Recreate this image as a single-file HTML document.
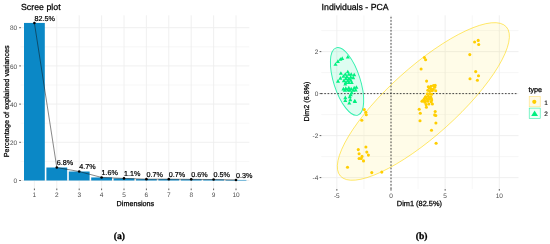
<!DOCTYPE html>
<html><head><meta charset="utf-8"><style>
html,body{margin:0;padding:0;background:#fff;width:550px;height:244px;overflow:hidden}
svg{display:block;font-family:"Liberation Sans",sans-serif;text-rendering:geometricPrecision}
svg{will-change:transform}
.tk{fill:#4d4d4d}
.lg{fill:#111;stroke:#111;stroke-width:0.15}
.at{fill:#000;stroke:#000;stroke-width:0.25}
.ti{fill:#000;stroke:#000;stroke-width:0.25}
.vl{fill:#000;stroke:#000;stroke-width:0.2}
</style></head><body>
<svg width="550" height="244" viewBox="0 0 550 244">
<line x1="20.6" x2="249.3" y1="180.50" y2="180.50" stroke="#EEEEEE" stroke-width="0.9"/>
<line x1="20.6" x2="249.3" y1="142.30" y2="142.30" stroke="#EEEEEE" stroke-width="0.9"/>
<line x1="20.6" x2="249.3" y1="104.10" y2="104.10" stroke="#EEEEEE" stroke-width="0.9"/>
<line x1="20.6" x2="249.3" y1="65.90" y2="65.90" stroke="#EEEEEE" stroke-width="0.9"/>
<line x1="20.6" x2="249.3" y1="27.70" y2="27.70" stroke="#EEEEEE" stroke-width="0.9"/>
<line x1="20.6" x2="249.3" y1="161.40" y2="161.40" stroke="#EEEEEE" stroke-width="0.5"/>
<line x1="20.6" x2="249.3" y1="123.20" y2="123.20" stroke="#EEEEEE" stroke-width="0.5"/>
<line x1="20.6" x2="249.3" y1="85.00" y2="85.00" stroke="#EEEEEE" stroke-width="0.5"/>
<line x1="20.6" x2="249.3" y1="46.80" y2="46.80" stroke="#EEEEEE" stroke-width="0.5"/>
<line x1="34.40" x2="34.40" y1="15.3" y2="188.5" stroke="#EEEEEE" stroke-width="0.9"/>
<line x1="56.80" x2="56.80" y1="15.3" y2="188.5" stroke="#EEEEEE" stroke-width="0.9"/>
<line x1="79.20" x2="79.20" y1="15.3" y2="188.5" stroke="#EEEEEE" stroke-width="0.9"/>
<line x1="101.60" x2="101.60" y1="15.3" y2="188.5" stroke="#EEEEEE" stroke-width="0.9"/>
<line x1="124.00" x2="124.00" y1="15.3" y2="188.5" stroke="#EEEEEE" stroke-width="0.9"/>
<line x1="146.40" x2="146.40" y1="15.3" y2="188.5" stroke="#EEEEEE" stroke-width="0.9"/>
<line x1="168.80" x2="168.80" y1="15.3" y2="188.5" stroke="#EEEEEE" stroke-width="0.9"/>
<line x1="191.20" x2="191.20" y1="15.3" y2="188.5" stroke="#EEEEEE" stroke-width="0.9"/>
<line x1="213.60" x2="213.60" y1="15.3" y2="188.5" stroke="#EEEEEE" stroke-width="0.9"/>
<line x1="236.00" x2="236.00" y1="15.3" y2="188.5" stroke="#EEEEEE" stroke-width="0.9"/>
<rect x="24.00" y="22.93" width="20.8" height="157.57" fill="#0B88C6"/>
<rect x="46.40" y="167.51" width="20.8" height="12.99" fill="#0B88C6"/>
<rect x="68.80" y="171.52" width="20.8" height="8.98" fill="#0B88C6"/>
<rect x="91.20" y="177.44" width="20.8" height="3.06" fill="#0B88C6"/>
<rect x="113.60" y="178.40" width="20.8" height="2.10" fill="#0B88C6"/>
<rect x="136.00" y="179.16" width="20.8" height="1.34" fill="#0B88C6"/>
<rect x="158.40" y="179.16" width="20.8" height="1.34" fill="#0B88C6"/>
<rect x="180.80" y="179.35" width="20.8" height="1.15" fill="#0B88C6"/>
<rect x="203.20" y="179.54" width="20.8" height="0.96" fill="#0B88C6"/>
<rect x="225.60" y="179.93" width="20.8" height="0.57" fill="#0B88C6"/>
<polyline points="34.40,22.93 56.80,167.51 79.20,171.52 101.60,177.44 124.00,178.40 146.40,179.16 168.80,179.16 191.20,179.35 213.60,179.54 236.00,179.93" fill="none" stroke="#111" stroke-width="0.5"/>
<circle cx="34.40" cy="22.93" r="1.3" fill="#000"/>
<circle cx="56.80" cy="167.51" r="1.3" fill="#000"/>
<circle cx="79.20" cy="171.52" r="1.3" fill="#000"/>
<circle cx="101.60" cy="177.44" r="1.3" fill="#000"/>
<circle cx="124.00" cy="178.40" r="1.3" fill="#000"/>
<circle cx="146.40" cy="179.16" r="1.3" fill="#000"/>
<circle cx="168.80" cy="179.16" r="1.3" fill="#000"/>
<circle cx="191.20" cy="179.35" r="1.3" fill="#000"/>
<circle cx="213.60" cy="179.54" r="1.3" fill="#000"/>
<circle cx="236.00" cy="179.93" r="1.3" fill="#000"/>
<text x="34.40" y="20.63" font-size="7.2" class="vl">82.5%</text>
<text x="56.80" y="165.21" font-size="7.2" class="vl">6.8%</text>
<text x="79.20" y="169.22" font-size="7.2" class="vl">4.7%</text>
<text x="101.60" y="175.14" font-size="7.2" class="vl">1.6%</text>
<text x="124.00" y="176.10" font-size="7.2" class="vl">1.1%</text>
<text x="146.40" y="176.86" font-size="7.2" class="vl">0.7%</text>
<text x="168.80" y="176.86" font-size="7.2" class="vl">0.7%</text>
<text x="191.20" y="177.05" font-size="7.2" class="vl">0.6%</text>
<text x="213.60" y="177.24" font-size="7.2" class="vl">0.5%</text>
<text x="236.00" y="177.63" font-size="7.2" class="vl">0.3%</text>
<line x1="19.2" x2="20.9" y1="180.50" y2="180.50" stroke="#333" stroke-width="0.8"/>
<text x="17.2" y="183.10" font-size="6.5" class="tk" text-anchor="end">0</text>
<line x1="19.2" x2="20.9" y1="142.30" y2="142.30" stroke="#333" stroke-width="0.8"/>
<text x="17.2" y="144.90" font-size="6.5" class="tk" text-anchor="end">20</text>
<line x1="19.2" x2="20.9" y1="104.10" y2="104.10" stroke="#333" stroke-width="0.8"/>
<text x="17.2" y="106.70" font-size="6.5" class="tk" text-anchor="end">40</text>
<line x1="19.2" x2="20.9" y1="65.90" y2="65.90" stroke="#333" stroke-width="0.8"/>
<text x="17.2" y="68.50" font-size="6.5" class="tk" text-anchor="end">60</text>
<line x1="19.2" x2="20.9" y1="27.70" y2="27.70" stroke="#333" stroke-width="0.8"/>
<text x="17.2" y="30.30" font-size="6.5" class="tk" text-anchor="end">80</text>
<line x1="34.40" x2="34.40" y1="188.5" y2="190.2" stroke="#333" stroke-width="0.8"/>
<text x="34.40" y="197.0" font-size="6.5" class="tk" text-anchor="middle">1</text>
<line x1="56.80" x2="56.80" y1="188.5" y2="190.2" stroke="#333" stroke-width="0.8"/>
<text x="56.80" y="197.0" font-size="6.5" class="tk" text-anchor="middle">2</text>
<line x1="79.20" x2="79.20" y1="188.5" y2="190.2" stroke="#333" stroke-width="0.8"/>
<text x="79.20" y="197.0" font-size="6.5" class="tk" text-anchor="middle">3</text>
<line x1="101.60" x2="101.60" y1="188.5" y2="190.2" stroke="#333" stroke-width="0.8"/>
<text x="101.60" y="197.0" font-size="6.5" class="tk" text-anchor="middle">4</text>
<line x1="124.00" x2="124.00" y1="188.5" y2="190.2" stroke="#333" stroke-width="0.8"/>
<text x="124.00" y="197.0" font-size="6.5" class="tk" text-anchor="middle">5</text>
<line x1="146.40" x2="146.40" y1="188.5" y2="190.2" stroke="#333" stroke-width="0.8"/>
<text x="146.40" y="197.0" font-size="6.5" class="tk" text-anchor="middle">6</text>
<line x1="168.80" x2="168.80" y1="188.5" y2="190.2" stroke="#333" stroke-width="0.8"/>
<text x="168.80" y="197.0" font-size="6.5" class="tk" text-anchor="middle">7</text>
<line x1="191.20" x2="191.20" y1="188.5" y2="190.2" stroke="#333" stroke-width="0.8"/>
<text x="191.20" y="197.0" font-size="6.5" class="tk" text-anchor="middle">8</text>
<line x1="213.60" x2="213.60" y1="188.5" y2="190.2" stroke="#333" stroke-width="0.8"/>
<text x="213.60" y="197.0" font-size="6.5" class="tk" text-anchor="middle">9</text>
<line x1="236.00" x2="236.00" y1="188.5" y2="190.2" stroke="#333" stroke-width="0.8"/>
<text x="236.00" y="197.0" font-size="6.5" class="tk" text-anchor="middle">10</text>
<text x="21" y="10.4" font-size="8.8" class="ti">Scree plot</text>
<text x="135.4" y="206.4" font-size="7.2" class="at" text-anchor="middle">Dimensions</text>
<text transform="translate(8.6,101.3) rotate(-90)" font-size="7.3" class="at" text-anchor="middle">Percentage of explained variances</text>
<line x1="336.85" x2="336.85" y1="15.3" y2="189.0" stroke="#EEEEEE" stroke-width="0.9"/>
<line x1="391.00" x2="391.00" y1="15.3" y2="189.0" stroke="#EEEEEE" stroke-width="0.9"/>
<line x1="445.15" x2="445.15" y1="15.3" y2="189.0" stroke="#EEEEEE" stroke-width="0.9"/>
<line x1="499.30" x2="499.30" y1="15.3" y2="189.0" stroke="#EEEEEE" stroke-width="0.9"/>
<line x1="363.93" x2="363.93" y1="15.3" y2="189.0" stroke="#EEEEEE" stroke-width="0.5"/>
<line x1="418.07" x2="418.07" y1="15.3" y2="189.0" stroke="#EEEEEE" stroke-width="0.5"/>
<line x1="472.23" x2="472.23" y1="15.3" y2="189.0" stroke="#EEEEEE" stroke-width="0.5"/>
<line x1="321.2" x2="518.5" y1="177.60" y2="177.60" stroke="#EEEEEE" stroke-width="0.9"/>
<line x1="321.2" x2="518.5" y1="135.60" y2="135.60" stroke="#EEEEEE" stroke-width="0.9"/>
<line x1="321.2" x2="518.5" y1="93.60" y2="93.60" stroke="#EEEEEE" stroke-width="0.9"/>
<line x1="321.2" x2="518.5" y1="51.60" y2="51.60" stroke="#EEEEEE" stroke-width="0.9"/>
<line x1="321.2" x2="518.5" y1="156.60" y2="156.60" stroke="#EEEEEE" stroke-width="0.5"/>
<line x1="321.2" x2="518.5" y1="114.60" y2="114.60" stroke="#EEEEEE" stroke-width="0.5"/>
<line x1="321.2" x2="518.5" y1="72.60" y2="72.60" stroke="#EEEEEE" stroke-width="0.5"/>
<line x1="321.2" x2="518.5" y1="30.60" y2="30.60" stroke="#EEEEEE" stroke-width="0.5"/>
<ellipse cx="423.36" cy="101.46" rx="111.57" ry="34.16" transform="rotate(-41.96 423.36 101.46)" fill="#FFE000" fill-opacity="0.09" stroke="#FFD800" stroke-opacity="0.68" stroke-width="0.8"/>
<ellipse cx="347.04" cy="81.48" rx="35.35" ry="13.23" transform="rotate(72.04 347.04 81.48)" fill="#00F090" fill-opacity="0.13" stroke="#30F0AE" stroke-opacity="1" stroke-width="0.95"/>
<line x1="391.00" x2="391.00" y1="189.0" y2="16.8" stroke="#333" stroke-width="0.9" stroke-dasharray="1.64,1.64"/>
<line x1="321.0" x2="517.0" y1="93.60" y2="93.60" stroke="#333" stroke-width="0.9" stroke-dasharray="1.64,1.645"/>
<circle cx="365.9" cy="147" r="1.55" fill="#FFCE00"/>
<circle cx="358.3" cy="149.6" r="1.55" fill="#FFCE00"/>
<circle cx="359.1" cy="153.8" r="1.55" fill="#FFCE00"/>
<circle cx="366.8" cy="152.1" r="1.55" fill="#FFCE00"/>
<circle cx="368.4" cy="155.1" r="1.55" fill="#FFCE00"/>
<circle cx="362" cy="156.4" r="1.55" fill="#FFCE00"/>
<circle cx="359.1" cy="158.5" r="1.55" fill="#FFCE00"/>
<circle cx="361.2" cy="158.5" r="1.55" fill="#FFCE00"/>
<circle cx="363.5" cy="160.9" r="1.55" fill="#FFCE00"/>
<circle cx="347.5" cy="167.3" r="1.55" fill="#FFCE00"/>
<circle cx="371.8" cy="172.6" r="1.55" fill="#FFCE00"/>
<circle cx="381.8" cy="172.1" r="1.55" fill="#FFCE00"/>
<circle cx="364.3" cy="109.6" r="1.55" fill="#FFCE00"/>
<circle cx="365.8" cy="112.3" r="1.55" fill="#FFCE00"/>
<circle cx="366.3" cy="114.7" r="1.55" fill="#FFCE00"/>
<circle cx="361.8" cy="120.2" r="1.55" fill="#FFCE00"/>
<circle cx="424.4" cy="57.5" r="1.55" fill="#FFCE00"/>
<circle cx="425.6" cy="59.8" r="1.55" fill="#FFCE00"/>
<circle cx="421.1" cy="69" r="1.55" fill="#FFCE00"/>
<circle cx="426.6" cy="81.1" r="1.55" fill="#FFCE00"/>
<circle cx="474.6" cy="42" r="1.55" fill="#FFCE00"/>
<circle cx="478.2" cy="40.4" r="1.55" fill="#FFCE00"/>
<circle cx="478.7" cy="44.5" r="1.55" fill="#FFCE00"/>
<circle cx="469.8" cy="54.6" r="1.55" fill="#FFCE00"/>
<circle cx="475.7" cy="71.6" r="1.55" fill="#FFCE00"/>
<circle cx="478.5" cy="75.7" r="1.55" fill="#FFCE00"/>
<circle cx="477.4" cy="80.3" r="1.55" fill="#FFCE00"/>
<circle cx="470" cy="78.7" r="1.55" fill="#FFCE00"/>
<circle cx="431.5" cy="130.2" r="1.55" fill="#FFCE00"/>
<circle cx="436.1" cy="143.3" r="1.55" fill="#FFCE00"/>
<circle cx="435.9" cy="123" r="1.55" fill="#FFCE00"/>
<circle cx="419.2" cy="109.2" r="1.55" fill="#FFCE00"/>
<circle cx="420.3" cy="113.2" r="1.55" fill="#FFCE00"/>
<circle cx="435.2" cy="111.5" r="1.55" fill="#FFCE00"/>
<circle cx="434.7" cy="114.9" r="1.55" fill="#FFCE00"/>
<circle cx="435.8" cy="115.5" r="1.55" fill="#FFCE00"/>
<circle cx="420" cy="120.7" r="1.55" fill="#FFCE00"/>
<circle cx="428.3" cy="86.8" r="1.55" fill="#FFCE00"/>
<circle cx="431" cy="86.2" r="1.55" fill="#FFCE00"/>
<circle cx="433.5" cy="85.6" r="1.55" fill="#FFCE00"/>
<circle cx="435.2" cy="85.4" r="1.55" fill="#FFCE00"/>
<circle cx="434.7" cy="87.3" r="1.55" fill="#FFCE00"/>
<circle cx="429.3" cy="87.8" r="1.55" fill="#FFCE00"/>
<circle cx="430.7" cy="88.8" r="1.55" fill="#FFCE00"/>
<circle cx="435.7" cy="90.8" r="1.55" fill="#FFCE00"/>
<circle cx="433.2" cy="89.2" r="1.55" fill="#FFCE00"/>
<circle cx="427.8" cy="90.3" r="1.55" fill="#FFCE00"/>
<circle cx="429.8" cy="91.3" r="1.55" fill="#FFCE00"/>
<circle cx="432.2" cy="90.8" r="1.55" fill="#FFCE00"/>
<circle cx="427.3" cy="93.7" r="1.55" fill="#FFCE00"/>
<circle cx="429.8" cy="93.7" r="1.55" fill="#FFCE00"/>
<circle cx="431.7" cy="94.2" r="1.55" fill="#FFCE00"/>
<circle cx="425.8" cy="96.7" r="1.55" fill="#FFCE00"/>
<circle cx="428.3" cy="96.2" r="1.55" fill="#FFCE00"/>
<circle cx="430.7" cy="96.7" r="1.55" fill="#FFCE00"/>
<circle cx="424.4" cy="98.6" r="1.55" fill="#FFCE00"/>
<circle cx="426.8" cy="99.1" r="1.55" fill="#FFCE00"/>
<circle cx="429.3" cy="99.1" r="1.55" fill="#FFCE00"/>
<circle cx="422.9" cy="100.6" r="1.55" fill="#FFCE00"/>
<circle cx="425.3" cy="101.1" r="1.55" fill="#FFCE00"/>
<circle cx="431.7" cy="100.1" r="1.55" fill="#FFCE00"/>
<circle cx="425.5" cy="97.1" r="1.55" fill="#FFCE00"/>
<circle cx="428.9" cy="97.7" r="1.55" fill="#FFCE00"/>
<circle cx="431.2" cy="98.3" r="1.55" fill="#FFCE00"/>
<circle cx="422" cy="101.2" r="1.55" fill="#FFCE00"/>
<circle cx="424.9" cy="102.3" r="1.55" fill="#FFCE00"/>
<circle cx="427.8" cy="101.2" r="1.55" fill="#FFCE00"/>
<circle cx="431.2" cy="101.7" r="1.55" fill="#FFCE00"/>
<circle cx="432.4" cy="104" r="1.55" fill="#FFCE00"/>
<circle cx="428.9" cy="104" r="1.55" fill="#FFCE00"/>
<circle cx="426.1" cy="104.6" r="1.55" fill="#FFCE00"/>
<circle cx="426.4" cy="107.3" r="1.55" fill="#FFCE00"/>
<path d="M347.80,55.00L349.85,58.60L345.75,58.60Z" fill="#00F080"/>
<path d="M342.20,56.30L344.25,59.90L340.15,59.90Z" fill="#00F080"/>
<path d="M340.40,57.20L342.45,60.80L338.35,60.80Z" fill="#00F080"/>
<path d="M337.90,59.30L339.95,62.90L335.85,62.90Z" fill="#00F080"/>
<path d="M335.50,62.20L337.55,65.80L333.45,65.80Z" fill="#00F080"/>
<path d="M347.80,69.70L349.85,73.30L345.75,73.30Z" fill="#00F080"/>
<path d="M340.90,71.20L342.95,74.80L338.85,74.80Z" fill="#00F080"/>
<path d="M345.30,72.20L347.35,75.80L343.25,75.80Z" fill="#00F080"/>
<path d="M348.80,72.20L350.85,75.80L346.75,75.80Z" fill="#00F080"/>
<path d="M351.20,72.20L353.25,75.80L349.15,75.80Z" fill="#00F080"/>
<path d="M354.20,72.70L356.25,76.30L352.15,76.30Z" fill="#00F080"/>
<path d="M343.40,74.20L345.45,77.80L341.35,77.80Z" fill="#00F080"/>
<path d="M346.80,74.60L348.85,78.20L344.75,78.20Z" fill="#00F080"/>
<path d="M350.70,75.10L352.75,78.70L348.65,78.70Z" fill="#00F080"/>
<path d="M340.40,76.10L342.45,79.70L338.35,79.70Z" fill="#00F080"/>
<path d="M345.80,76.60L347.85,80.20L343.75,80.20Z" fill="#00F080"/>
<path d="M348.80,76.60L350.85,80.20L346.75,80.20Z" fill="#00F080"/>
<path d="M353.20,75.60L355.25,79.20L351.15,79.20Z" fill="#00F080"/>
<path d="M338.00,79.10L340.05,82.70L335.95,82.70Z" fill="#00F080"/>
<path d="M343.90,78.60L345.95,82.20L341.85,82.20Z" fill="#00F080"/>
<path d="M347.80,78.60L349.85,82.20L345.75,82.20Z" fill="#00F080"/>
<path d="M350.70,78.10L352.75,81.70L348.65,81.70Z" fill="#00F080"/>
<path d="M345.80,80.50L347.85,84.10L343.75,84.10Z" fill="#00F080"/>
<path d="M348.80,80.50L350.85,84.10L346.75,84.10Z" fill="#00F080"/>
<path d="M351.70,80.50L353.75,84.10L349.65,84.10Z" fill="#00F080"/>
<path d="M345.30,82.00L347.35,85.60L343.25,85.60Z" fill="#00F080"/>
<path d="M343.40,86.80L345.45,90.40L341.35,90.40Z" fill="#00F080"/>
<path d="M345.80,86.30L347.85,89.90L343.75,89.90Z" fill="#00F080"/>
<path d="M348.80,85.80L350.85,89.40L346.75,89.40Z" fill="#00F080"/>
<path d="M351.20,86.80L353.25,90.40L349.15,90.40Z" fill="#00F080"/>
<path d="M354.20,85.80L356.25,89.40L352.15,89.40Z" fill="#00F080"/>
<path d="M356.40,85.20L358.45,88.80L354.35,88.80Z" fill="#00F080"/>
<path d="M344.80,88.20L346.85,91.80L342.75,91.80Z" fill="#00F080"/>
<path d="M349.80,88.20L351.85,91.80L347.75,91.80Z" fill="#00F080"/>
<path d="M353.20,88.20L355.25,91.80L351.15,91.80Z" fill="#00F080"/>
<path d="M347.80,87.90L349.85,91.50L345.75,91.50Z" fill="#00F080"/>
<path d="M355.70,87.90L357.75,91.50L353.65,91.50Z" fill="#00F080"/>
<path d="M351.70,90.70L353.75,94.30L349.65,94.30Z" fill="#00F080"/>
<path d="M350.70,92.60L352.75,96.20L348.65,96.20Z" fill="#00F080"/>
<path d="M345.30,95.60L347.35,99.20L343.25,99.20Z" fill="#00F080"/>
<path d="M349.80,94.60L351.85,98.20L347.75,98.20Z" fill="#00F080"/>
<path d="M350.30,97.60L352.35,101.20L348.25,101.20Z" fill="#00F080"/>
<path d="M345.30,98.50L347.35,102.10L343.25,102.10Z" fill="#00F080"/>
<path d="M354.70,99.00L356.75,102.60L352.65,102.60Z" fill="#00F080"/>
<path d="M349.30,101.00L351.35,104.60L347.25,104.60Z" fill="#00F080"/>
<path d="M355.00,99.30L357.05,102.90L352.95,102.90Z" fill="#00F080"/>
<line x1="319.6" x2="321.3" y1="177.60" y2="177.60" stroke="#333" stroke-width="0.8"/>
<text x="318.3" y="179.90" font-size="6.5" class="tk" text-anchor="end">-4</text>
<line x1="319.6" x2="321.3" y1="135.60" y2="135.60" stroke="#333" stroke-width="0.8"/>
<text x="318.3" y="137.90" font-size="6.5" class="tk" text-anchor="end">-2</text>
<line x1="319.6" x2="321.3" y1="93.60" y2="93.60" stroke="#333" stroke-width="0.8"/>
<text x="318.3" y="95.90" font-size="6.5" class="tk" text-anchor="end">0</text>
<line x1="319.6" x2="321.3" y1="51.60" y2="51.60" stroke="#333" stroke-width="0.8"/>
<text x="318.3" y="53.90" font-size="6.5" class="tk" text-anchor="end">2</text>
<line x1="336.85" x2="336.85" y1="189" y2="190.7" stroke="#333" stroke-width="0.8"/>
<text x="336.85" y="197.5" font-size="6.5" class="tk" text-anchor="middle">-5</text>
<line x1="391.00" x2="391.00" y1="189" y2="190.7" stroke="#333" stroke-width="0.8"/>
<text x="391.00" y="197.5" font-size="6.5" class="tk" text-anchor="middle">0</text>
<line x1="445.15" x2="445.15" y1="189" y2="190.7" stroke="#333" stroke-width="0.8"/>
<text x="445.15" y="197.5" font-size="6.5" class="tk" text-anchor="middle">5</text>
<line x1="499.30" x2="499.30" y1="189" y2="190.7" stroke="#333" stroke-width="0.8"/>
<text x="499.30" y="197.5" font-size="6.5" class="tk" text-anchor="middle">10</text>
<text x="321.6" y="10.2" font-size="8.75" class="ti">Individuals - PCA</text>
<text x="419.4" y="206.3" font-size="7.4" class="at" text-anchor="middle">Dim1 (82.5%)</text>
<text transform="translate(308.9,101.5) rotate(-90)" font-size="7.2" class="at" text-anchor="middle">Dim2 (6.8%)</text>
<text x="528.4" y="91.5" font-size="7.2" class="at">type</text>
<rect x="529.2" y="96.4" width="11" height="10.4" fill="#FFFAE6" stroke="#FFE27A" stroke-width="0.6"/>
<rect x="529.2" y="108.1" width="11" height="10.4" fill="#F0FFF8" stroke="#30EDA8" stroke-width="0.6"/>
<circle cx="534.3" cy="101.8" r="2.1" fill="#FFCE00"/>
<path d="M534.6,110.4L538,115.9L531.2,115.9Z" fill="#00F080"/>
<text x="544.2" y="104.5" font-size="6.5" class="lg">1</text>
<text x="544.2" y="116.3" font-size="6.5" class="lg">2</text>
<text x="119.3" y="239.2" font-family="Liberation Serif, serif" font-size="9.6" font-weight="bold" fill="#000" stroke="#000" stroke-width="0.3" text-anchor="middle">(a)</text>
<text x="421.6" y="239.2" font-family="Liberation Serif, serif" font-size="9.6" font-weight="bold" fill="#000" stroke="#000" stroke-width="0.3" text-anchor="middle">(b)</text>
</svg>
</body></html>
